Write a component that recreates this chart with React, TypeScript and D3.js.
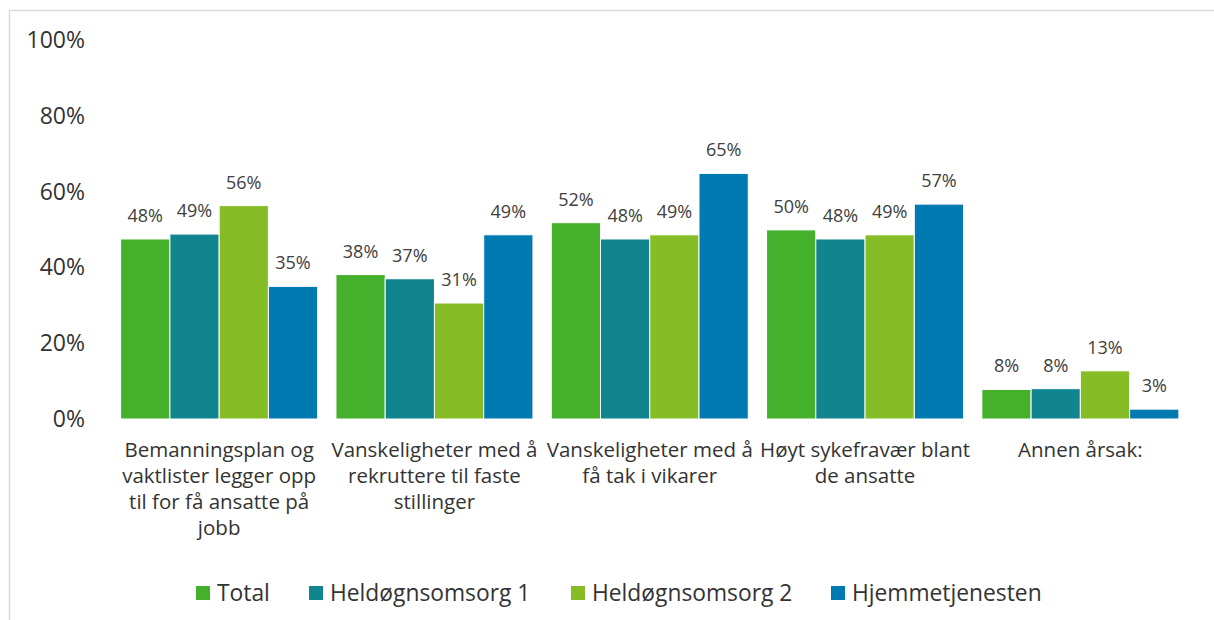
import React from "react";
import * as d3 from "d3";

const categories = [
  "Bemanningsplan og vaktlister legger opp til for få ansatte på jobb",
  "Vanskeligheter med å rekruttere til faste stillinger",
  "Vanskeligheter med å få tak i vikarer",
  "Høyt sykefravær blant de ansatte",
  "Annen årsak:",
];
const categoryLines = [
  ["Bemanningsplan og", "vaktlister legger opp", "til for få ansatte på", "jobb"],
  ["Vanskeligheter med å", "rekruttere til faste", "stillinger"],
  ["Vanskeligheter med å", "få tak i vikarer"],
  ["Høyt sykefravær blant", "de ansatte"],
  ["Annen årsak:"],
];
const seriesNames = ["Total", "Heldøgnsomsorg 1", "Heldøgnsomsorg 2", "Hjemmetjenesten"];
const seriesColors = ["#44b02b", "#10848f", "#86bc26", "#007ab0"];
const total = [47.5, 38.1, 51.8, 49.9, 7.8];
const held1 = [48.8, 37.0, 47.5, 47.5, 8.0];
const held2 = [56.3, 30.6, 48.6, 48.6, 12.7];
const hjemme = [35.0, 48.6, 64.8, 56.7, 2.6];
const labels = [
  ["48%", "38%", "52%", "50%", "8%"],
  ["49%", "37%", "48%", "48%", "8%"],
  ["56%", "31%", "49%", "49%", "13%"],
  ["35%", "49%", "65%", "57%", "3%"],
];
const yTicks = [0, 20, 40, 60, 80, 100];

const seriesValues = [total, held1, held2, hjemme];
const FONT = "'Open Sans', sans-serif";

export default function App() {
  const W = 1214;
  const H = 620;
  const x0 = d3
    .scaleBand<string>()
    .domain(categories)
    .range([111.5, 1188])
    .paddingInner(0.085)
    .paddingOuter(0.0425);
  const x1 = d3
    .scaleBand<string>()
    .domain(seriesNames)
    .range([0, x0.bandwidth()])
    .padding(0);
  const y = d3.scaleLinear().domain([0, 100]).range([419, 40]);

  const legendX = [196, 309, 571, 831];

  return (
    <svg
      width={W}
      height={H}
      style={{ position: "absolute", left: 0, top: 0, background: "#fff" }}
      fontFamily={FONT}
    >
      <rect x={9.5} y={10.5} width={W} height={H} fill="#fff" stroke="#d9d9d9" strokeWidth={1.5} />
      {yTicks.map((t) => (
        <text key={t} x={85} y={y(t) + 8} textAnchor="end" fontSize={23} fill="#333">
          {t}%
        </text>
      ))}
      {categories.map((c, ci) => (
        <g key={c} transform={`translate(${x0(c)},0)`}>
          {seriesNames.map((s, si) => {
            const v = seriesValues[si][ci];
            const bx = x1(s)!;
            return (
              <g key={s}>
                <rect
                  x={bx}
                  y={y(v)}
                  width={x1.bandwidth()}
                  height={y(0) - y(v)}
                  fill={seriesColors[si]}
                  stroke="#ffffff"
                  strokeWidth={1}
                />
                <text
                  x={bx + x1.bandwidth() / 2}
                  y={y(v) - 17}
                  textAnchor="middle"
                  fontSize={18}
                  fill="#404040"
                >
                  {labels[si][ci]}
                </text>
              </g>
            );
          })}
          {categoryLines[ci].map((line, li) => (
            <text
              key={li}
              x={x0.bandwidth() / 2}
              y={457 + li * 26}
              textAnchor="middle"
              fontSize={20.5}
              fill="#333"
            >
              {line}
            </text>
          ))}
        </g>
      ))}
      {seriesNames.map((s, si) => (
        <g key={s}>
          <rect x={legendX[si]} y={586} width={14} height={14} fill={seriesColors[si]} />
          <text x={legendX[si] + 21} y={601} fontSize={22.8} fill="#333">
            {s}
          </text>
        </g>
      ))}
    </svg>
  );
}
